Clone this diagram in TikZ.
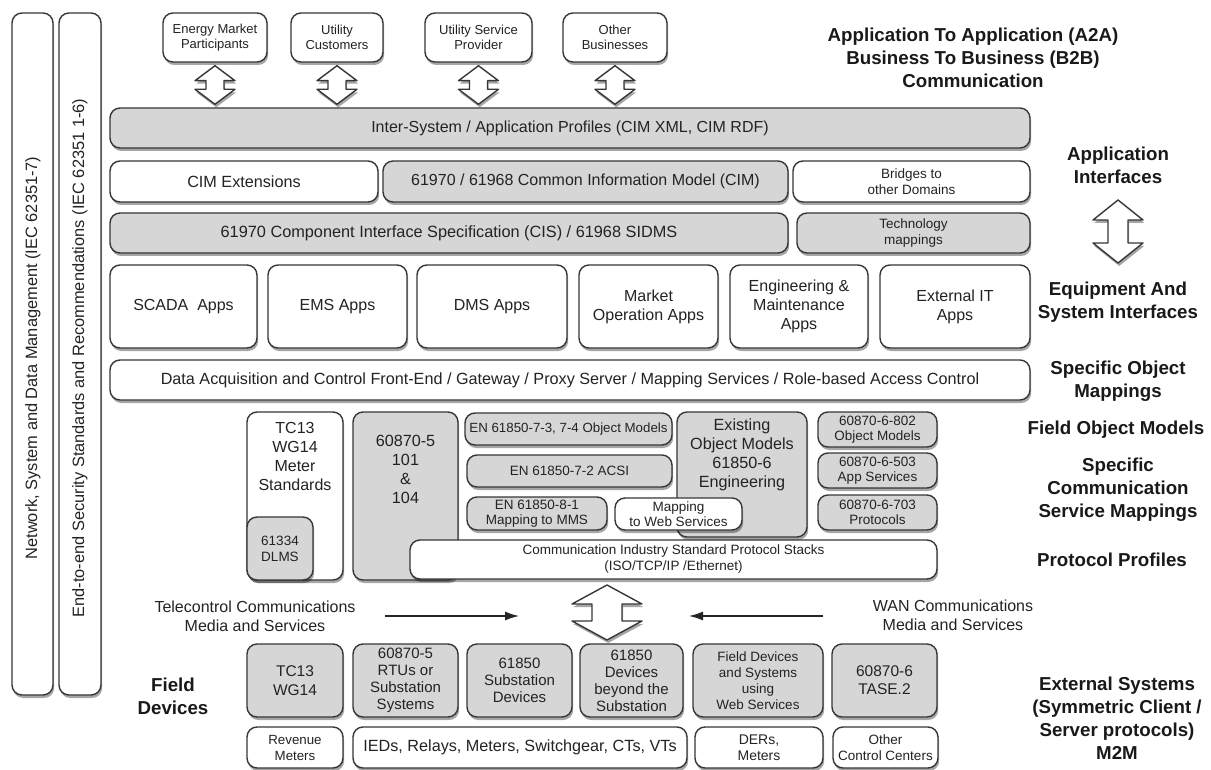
\documentclass[tikz,border=0pt]{standalone}
\usepackage{fontspec}
\setmainfont{Liberation Sans}
\usetikzlibrary{shadows,calc,arrows.meta}
\definecolor{boxgray}{RGB}{214,214,214}
\definecolor{edge}{RGB}{55,55,55}
\definecolor{ink}{RGB}{35,35,35}
\newcommand\fs[2]{\fontsize{#1}{#2}\selectfont}
\newcommand\bx[7]{\node[#1, minimum width={(#5-#3)*1pt}, minimum height={(#6-#4)*1pt}] (#2) at ({(#3+#5)/2},{(#4+#6)/2}) {#7};}
\newcommand\fatarrow[5]{\draw[fatarr] let \p1=(#1), \p2=(#2) in (\x1,\y1) -- (\x1+#3,\y1-#5) -- (\x1+#4,\y1-#5) -- (\x1+#4,\y2+#5) -- (\x1+#3,\y2+#5) -- (\x1,\y2) -- (\x1-#3,\y2+#5) -- (\x1-#4,\y2+#5) -- (\x1-#4,\y1-#5) -- (\x1-#3,\y1-#5) -- cycle;}
\tikzset{
 shad/.style={drop shadow={shadow xshift=1.2pt,shadow yshift=-3pt,opacity=0.35,fill=black}},
 base/.style={draw=edge, line width=1.4pt, rounded corners=10pt, inner sep=0pt, align=center, text=ink, shad},
 wbox/.style={base, fill=white},
 gbox/.style={base, fill=boxgray},
 fatarr/.style={draw=edge, line width=1.4pt, fill=white, line join=round, shad},
 lab/.style={font=\bfseries\fs{18.7}{23}, align=center, text=black!90, inner sep=0pt},
 txt/.style={align=center, text=ink, inner sep=0pt},
 thinarr/.style={line width=2.5pt, draw=black!85, -{Latex[length=15pt,width=9pt]}},
}
\begin{document}
\begin{tikzpicture}[x=1pt,y=-1pt]
\useasboundingbox[fill=white] (0,0) rectangle (1211,770);
% left bars
\bx{wbox}{nsdm}{12}{13}{53}{695}{}
\node[txt, rotate=90, font=\fs{16.4}{18}] (nsdmt) at (33,358) {Network, System and Data Management (IEC 62351-7)};
\bx{wbox}{sec}{59}{13}{101}{695}{}
\node[txt, rotate=90, font=\fs{16.4}{18}] (sect) at (80,358) {End-to-end Security Standards and Recommendations (IEC 62351 1-6)};
% top external boxes
\bx{wbox,font=\fs{13}{15.5}}{emp}{163}{13}{267}{62}{Energy Market\\Participants}
\bx{wbox,font=\fs{13}{15.5}}{uc}{291}{13}{383}{62}{Utility\\Customers}
\bx{wbox,font=\fs{13}{15.5}}{usp}{425}{13}{532}{62}{Utility Service\\Provider}
\bx{wbox,font=\fs{13}{15.5}}{ob}{563}{13}{667}{62}{Other\\Businesses}
% upper layers
\bx{gbox,font=\fs{16}{19}}{isys}{110}{108}{1030}{148}{Inter-System / Application Profiles (CIM XML, CIM RDF)}
\bx{wbox,font=\fs{16.2}{19}}{cimext}{110}{161}{378}{202}{CIM Extensions}
\bx{gbox,font=\fs{16}{19}}{cim}{383}{161}{788}{202}{61970 / 61968 Common Information Model (CIM)}
\bx{wbox,font=\fs{13.5}{16.5}}{bridges}{793}{161}{1030}{202}{Bridges to\\other Domains}
\bx{gbox,font=\fs{16.3}{19}}{cis}{110}{213}{788}{253}{61970 Component Interface Specification (CIS) / 61968 SIDMS}
\bx{gbox,font=\fs{13.5}{16.5}}{techmap}{797}{213}{1030}{253}{Technology\\mappings}
% apps
\bx{wbox,font=\fs{16}{19}}{scada}{110}{265}{257}{348}{SCADA\ \ Apps}
\bx{wbox,font=\fs{16}{19}}{ems}{268}{265}{407}{348}{EMS Apps}
\bx{wbox,font=\fs{16}{19}}{dms}{417}{265}{567}{348}{DMS Apps}
\bx{wbox,font=\fs{16}{19}}{mkt}{579}{265}{718}{348}{Market\\Operation Apps}
\bx{wbox,font=\fs{16}{19}}{eng}{730}{265}{868}{348}{Engineering \&\\Maintenance\\Apps}
\bx{wbox,font=\fs{16}{19}}{extit}{880}{265}{1030}{348}{External IT\\Apps}
\bx{wbox,font=\fs{16.2}{19}}{daq}{110}{360}{1030}{400}{Data Acquisition and Control Front-End / Gateway / Proxy Server / Mapping Services / Role-based Access Control}
% middle section
\bx{wbox}{tc13}{247}{412}{343}{580}{}
\node[txt, anchor=north, font=\fs{16}{19}] (tc13t) at (295,422) {TC13\\WG14\\Meter\\Standards};
\bx{gbox,font=\fs{13.5}{16}}{dlms}{247}{517}{313}{580}{61334\\DLMS}
\bx{gbox}{iec104}{353}{412}{458}{580}{}
\node[txt, anchor=north, font=\fs{16.2}{19}] (iec104t) at (405.5,435) {60870-5\\101\\\&\\104};
\bx{gbox,font=\fs{13.3}{15}}{en73}{465}{413}{672}{445}{EN 61850-7-3, 7-4 Object Models}
\bx{gbox,font=\fs{13.5}{16}}{en72}{467}{455}{672}{487}{EN 61850-7-2 ACSI}
\bx{gbox,font=\fs{13.5}{15}}{en81}{467}{497}{607}{530}{EN 61850-8-1\\Mapping to MMS}
\bx{gbox}{exist}{677}{412}{807}{537}{}
\node[txt, anchor=north, font=\fs{16.2}{19}] (existt) at (742,419) {Existing\\Object Models\\61850-6\\Engineering};
\bx{wbox,font=\fs{13.5}{15}}{mws}{615}{498}{742}{530}{Mapping\\to Web Services}
\bx{gbox,font=\fs{13.5}{15.5}}{t802}{818}{412}{937}{447}{60870-6-802\\Object Models}
\bx{gbox,font=\fs{13.5}{15.5}}{t503}{818}{453}{937}{488}{60870-6-503\\App Services}
\bx{gbox,font=\fs{13.5}{15.5}}{t703}{818}{495}{937}{530}{60870-6-703\\Protocols}
\bx{wbox,font=\fs{13.5}{16}}{stack}{410}{540}{937}{579}{Communication Industry Standard Protocol Stacks\\(ISO/TCP/IP /Ethernet)}
% media row
\node[txt, font=\fs{16}{19}] (tele) at (255,616) {Telecontrol Communications\\Media and Services};
\node[txt, font=\fs{16}{19}] (wan) at (953,615) {WAN Communications\\Media and Services};
\coordinate (tcA) at (385,616);
\coordinate (tcB) at (520,616);
\coordinate (wnA) at (823,616);
\coordinate (wnB) at (688,616);
\draw[thinarr] (tcA) -- (tcB);
\draw[thinarr] (wnA) -- (wnB);
% field devices
\bx{gbox,font=\fs{15.5}{18.5}}{f1}{247}{644}{343}{717}{TC13\\WG14}
\bx{gbox,font=\fs{15}{17}}{f2}{353}{644}{458}{717}{60870-5\\RTUs or\\Substation\\Systems}
\bx{gbox,font=\fs{15}{17}}{f3}{467}{644}{572}{717}{61850\\Substation\\Devices}
\bx{gbox,font=\fs{15}{17}}{f4}{580}{644}{683}{717}{61850\\Devices\\beyond the\\Substation}
\bx{gbox,font=\fs{13.5}{16}}{f5}{693}{644}{823}{717}{Field Devices\\and Systems\\using\\Web Services}
\bx{gbox,font=\fs{15.5}{18}}{f6}{832}{644}{937}{717}{60870-6\\TASE.2}
% bottom row
\bx{wbox,font=\fs{13.3}{16}}{b1}{247}{727}{343}{768}{Revenue\\Meters}
\bx{wbox,font=\fs{16.2}{19}}{b2}{353}{727}{687}{768}{IEDs, Relays, Meters, Switchgear, CTs, VTs}
\bx{wbox,font=\fs{14}{16.5}}{b3}{695}{727}{823}{768}{DERs,\\Meters}
\bx{wbox,font=\fs{13.5}{16}}{b4}{833}{727}{938}{768}{Other\\Control Centers}
\node[lab] (fdev) at (173,696) {Field\\Devices};
% right labels
\node[lab] (a2a) at (973,58) {Application To Application (A2A)\\Business To Business (B2B)\\Communication};
\node[lab] (appif) at (1118,165) {Application\\Interfaces};
\node[lab] (equip) at (1118,302) {Equipment And\\System Interfaces};
\node[lab] (som) at (1118,381) {Specific Object\\Mappings};
\node[lab] (fom) at (1116,430) {Field Object Models};
\node[lab] (scsm) at (1118,490) {Specific\\Communication\\Service Mappings};
\node[lab] (pp) at (1112,560) {Protocol Profiles};
\node[lab] (ext) at (1117,718) {External Systems\\(Symmetric Client /\\Server protocols)\\M2M};
% fat double arrows
\fatarrow{$(emp.south)+(0,3)$}{$(isys.north)+(0,-3)$}{20pt}{9pt}{15pt}
\fatarrow{$(uc.south)+(0,3)$}{$(isys.north)+(0,-3)$}{20pt}{9pt}{15pt}
\fatarrow{$(usp.south)+(0,3)$}{$(isys.north)+(0,-3)$}{20pt}{9pt}{15pt}
\fatarrow{$(ob.south)+(0,3)$}{$(isys.north)+(0,-3)$}{20pt}{9pt}{15pt}
\coordinate (raT) at (1118,200);
\coordinate (raB) at (1118,263);
\fatarrow{raT}{raB}{25pt}{10pt}{20pt}
\coordinate (maT) at (607,585);
\coordinate (maB) at (607,640);
\fatarrow{maT}{maB}{35pt}{15pt}{19pt}
\end{tikzpicture}
\end{document}
